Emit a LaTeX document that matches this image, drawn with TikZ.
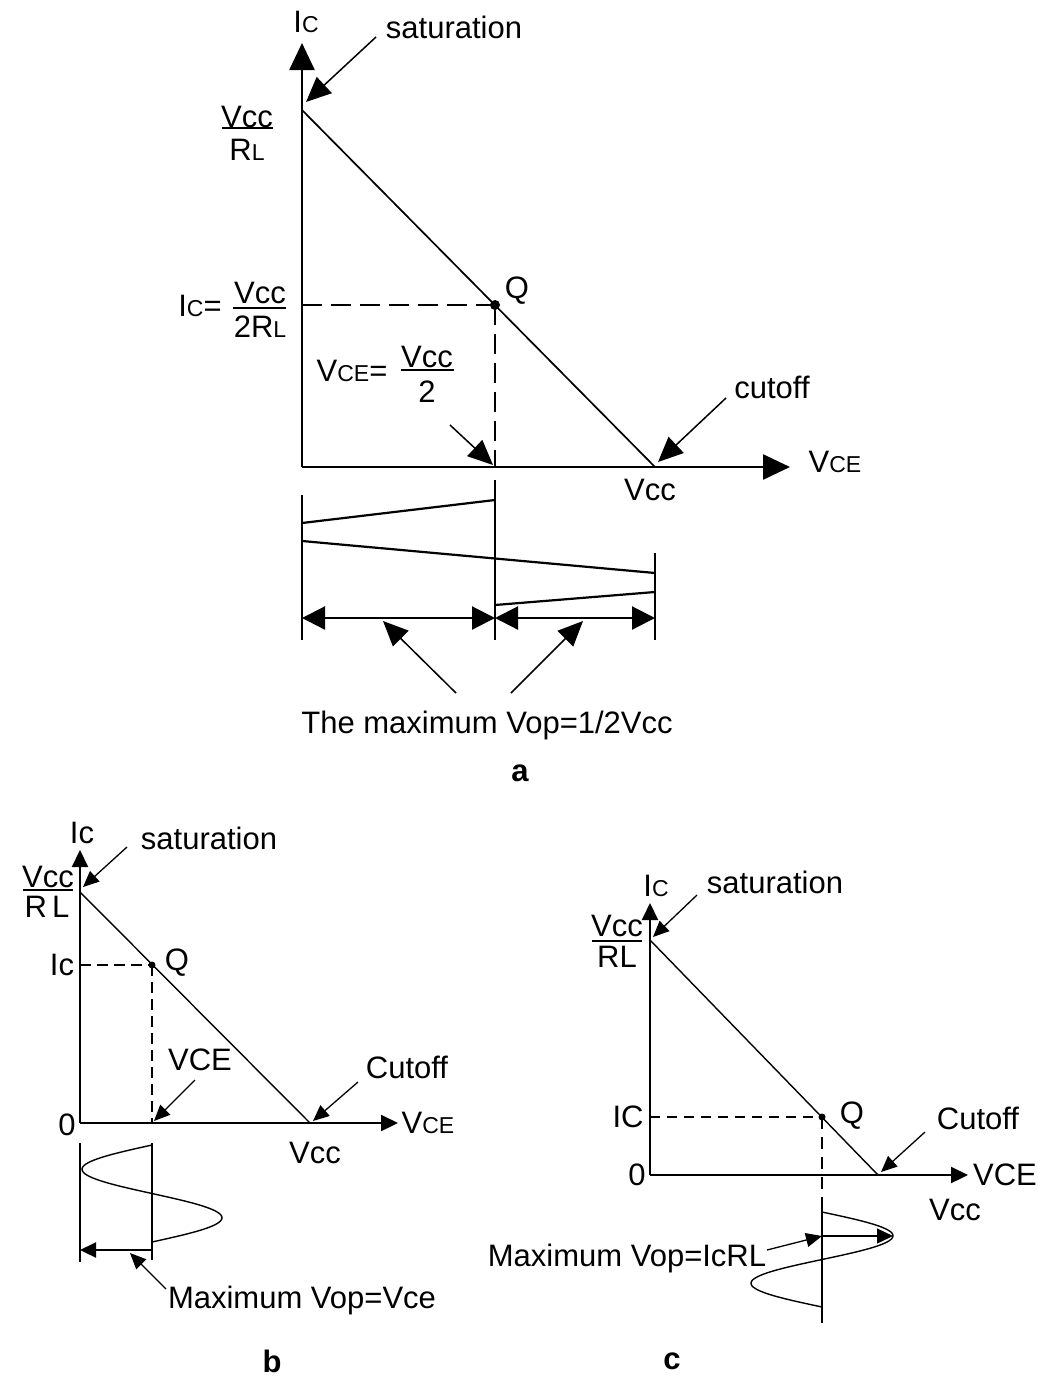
\documentclass[tikz,border=0pt]{standalone}
\usepackage{fontspec}
\setmainfont{Liberation Sans}
\usetikzlibrary{arrows.meta}
\newcommand\smc[1]{{\fontsize{23}{25}\selectfont #1}}
\begin{document}
\begin{tikzpicture}[x=1pt,y=-1pt,
  lbl/.style={font=\fontsize{31}{35}\selectfont, inner sep=0pt, text depth=0pt},
  ttl/.style={font=\fontsize{31}{35}\selectfont\bfseries, inner sep=0pt},
  axA/.style={line width=2.6pt, -{Triangle[length=27pt,width=25pt]}},
  lineA/.style={line width=1.7pt},
  barA/.style={line width=2.2pt},
  dashA/.style={line width=2.6pt, dash pattern=on 20pt off 9pt},
  ptrA/.style={line width=1.5pt, -{Triangle[length=25pt,width=22pt]}},
  dblA/.style={line width=2.2pt, {Triangle[length=23pt,width=23pt]}-{Triangle[length=23pt,width=23pt]}},
  axB/.style={line width=2.2pt, -{Triangle[length=17pt,width=16pt]}},
  lineB/.style={line width=1.4pt},
  dashB/.style={line width=2.2pt, dash pattern=on 11pt off 6pt},
  ptrB/.style={line width=1.3pt, -{Triangle[length=16pt,width=14pt]}},
]
\useasboundingbox[fill=white] (0,0) rectangle (1041,1376);

%% ================= diagram a =================
\coordinate (Oa) at (302,467);
\coordinate (aYtip) at (302,43);
\coordinate (aXtip) at (790,467);
\coordinate (aSat) at (302,110);
\coordinate (aCut) at (655,467);
\coordinate (aQ) at (495,305);
\coordinate (aQy) at (302,305);
\coordinate (aQx) at (495,467);

\draw[axA] (Oa) -- (aYtip);
\draw[axA] (Oa) -- (aXtip);
\draw[lineA] (aSat) -- (aCut);
\draw[dashA] (aQy) -- (aQ);
\draw[dashA] (aQ) -- (aQx);
\fill (aQ) circle (5pt);

\node[lbl] (aIc) at (306,22) {I\smc{C}};
\node[lbl] (aSatTxt) at (454,27) {saturation};
\coordinate (aSatS) at (376,37);
\coordinate (aSatE) at (306,102);
\draw[ptrA] (aSatS) -- (aSatE);

\node[lbl] (aN1) at (247,117) {Vcc};
\draw[barA] (222,128) coordinate (aB1l) -- (273,128) coordinate (aB1r);
\node[lbl] (aD1) at (247,150) {R\smc{L}};

\node[lbl] (aIcEq) at (200,306) {I\smc{C}=};
\node[lbl] (aN2) at (260,293) {Vcc};
\draw[barA] (233,308) coordinate (aB2l) -- (286,308) coordinate (aB2r);
\node[lbl] (aD2) at (260,327) {2R\smc{L}};

\node[lbl] (aQlbl) at (517,288) {Q};

\node[lbl] (aVceEq) at (352,371) {V\smc{CE}=};
\node[lbl] (aN3) at (427,357) {Vcc};
\draw[barA] (401,370) coordinate (aB3l) -- (454,370) coordinate (aB3r);
\node[lbl] (aD3) at (427,392) {2};

\coordinate (aVcS) at (450,425);
\coordinate (aVcE) at (493,465);
\draw[ptrA] (aVcS) -- (aVcE);

\node[lbl] (aCutTxt) at (772,387) {cutoff};
\coordinate (aCutS) at (726,398);
\coordinate (aCutE) at (658,462);
\draw[ptrA] (aCutS) -- (aCutE);

\node[lbl] (aVCE) at (835,462) {V\smc{CE}};
\node[lbl] (aVcc) at (650,490) {Vcc};

% lower part of a
\coordinate (aL1t) at (302,495); \coordinate (aL1b) at (302,640);
\coordinate (aL2t) at (495,480); \coordinate (aL2b) at (495,640);
\coordinate (aL3t) at (655,553); \coordinate (aL3b) at (655,640);
\draw[barA] (aL1t) -- (aL1b);
\draw[barA] (aL2t) -- (aL2b);
\draw[barA] (aL3t) -- (aL3b);
\draw[barA] (302,523) -- (495,500);
\draw[barA] (302,541) -- (655,573);
\draw[barA] (495,605) -- (655,592);
\coordinate (aA1) at (302,618); \coordinate (aA2) at (495,618); \coordinate (aA3) at (655,618);
\draw[dblA] (aA1) -- (aA2);
\draw[dblA] (aA2) -- (aA3);
\node[lbl] (aMax) at (487,722) {The maximum Vop=1/2Vcc};
\coordinate (aP1s) at (456,693); \coordinate (aP1e) at (383,621);
\coordinate (aP2s) at (511,693); \coordinate (aP2e) at (583,621);
\draw[ptrA] (aP1s) -- (aP1e);
\draw[ptrA] (aP2s) -- (aP2e);
\node[ttl] (aTitle) at (520,773) {a};

%% ================= diagram b =================
\coordinate (Ob) at (80,1123);
\coordinate (bYtip) at (80,850);
\coordinate (bXtip) at (398,1123);
\coordinate (bSat) at (80,892);
\coordinate (bCut) at (310,1123);
\coordinate (bQ) at (152,965);
\coordinate (bQy) at (80,965);
\coordinate (bQx) at (152,1123);

\draw[axB] (Ob) -- (bYtip);
\draw[axB] (Ob) -- (bXtip);
\draw[lineB] (bSat) -- (bCut);
\draw[dashB] (bQy) -- (bQ);
\draw[dashB] (bQ) -- (bQx);
\fill (bQ) circle (3.5pt);

\node[lbl] (bIc) at (82,833) {Ic};
\node[lbl] (bSatTxt) at (209,838) {saturation};
\coordinate (bSatS) at (127,847); \coordinate (bSatE) at (83,887);
\draw[ptrB] (bSatS) -- (bSatE);
\node[lbl] (bN) at (48,877) {Vcc};
\draw[barA] (23,890) -- (73,890);
\node[lbl] (bD) at (47,907) {R\,L};
\node[lbl] (bIcL) at (62,965) {Ic};
\node[lbl] (bQlbl) at (177,960) {Q};
\node[lbl] (bVCEtxt) at (200,1060) {VCE};
\coordinate (bVcS) at (195,1080); \coordinate (bVcE) at (154,1121);
\draw[ptrB] (bVcS) -- (bVcE);
\node[lbl] (b0) at (67,1125) {0};
\node[lbl] (bCutTxt) at (407,1067) {Cutoff};
\coordinate (bCutS) at (358,1082); \coordinate (bCutE) at (313,1121);
\draw[ptrB] (bCutS) -- (bCutE);
\node[lbl] (bVCE) at (428,1123) {V\smc{CE}};
\node[lbl] (bVcc) at (315,1153) {Vcc};

% lower part of b
\coordinate (bL1t) at (80,1143); \coordinate (bL1b) at (80,1262);
\coordinate (bL2t) at (152,1143); \coordinate (bL2b) at (152,1260);
\draw[barA] (bL1t) -- (bL1b);
\draw[barA] (bL2t) -- (bL2b);
\draw[lineB] plot[domain=0:360, samples=73, smooth, variable=\t] ({152-70*sin(\t)}, {1145+\t/360*97});
\coordinate (bArS) at (152,1250); \coordinate (bArE) at (80,1250);
\draw[barA, -{Triangle[length=16pt,width=15pt]}] (bArS) -- (bArE);
\node[lbl] (bMax) at (302,1297) {Maximum Vop=Vce};
\coordinate (bPs) at (166,1289); \coordinate (bPe) at (130,1253);
\draw[ptrB] (bPs) -- (bPe);
\node[ttl] (bTitle) at (272,1361) {b};

%% ================= diagram c =================
\coordinate (Oc) at (650,1175);
\coordinate (cYtip) at (650,903);
\coordinate (cXtip) at (968,1175);
\coordinate (cSat) at (650,940);
\coordinate (cCut) at (878,1175);
\coordinate (cQ) at (822,1117);
\coordinate (cQy) at (650,1117);
\coordinate (cQx) at (822,1198);
\coordinate (cSb) at (822,1323);

\draw[axB] (Oc) -- (cYtip);
\draw[axB] (Oc) -- (cXtip);
\draw[lineB] (cSat) -- (cCut);
\draw[dashB, line width=1.7pt, dash pattern=on 10pt off 7pt] (cQy) -- (cQ);
\draw[dashB, line width=1.7pt, dash pattern=on 12pt off 8pt] (cQ) -- (cQx);
\draw[lineB, line width=1.8pt] (cQx) -- (cSb);
\fill (cQ) circle (3.5pt);

\node[lbl] (cIc) at (656,886) {I\smc{C}};
\node[lbl] (cSatTxt) at (775,882) {saturation};
\coordinate (cSatS) at (697,895); \coordinate (cSatE) at (653,937);
\draw[ptrB] (cSatS) -- (cSatE);
\node[lbl] (cN) at (617,926) {Vcc};
\draw[barA] (592,941) -- (642,941);
\node[lbl] (cD) at (617,957) {RL};
\node[lbl] (cIC) at (628,1117) {IC};
\node[lbl] (cQlbl) at (852,1113) {Q};
\node[lbl] (c0) at (637,1175) {0};
\node[lbl] (cCutTxt) at (978,1118) {Cutoff};
\coordinate (cCutS) at (925,1132); \coordinate (cCutE) at (881,1172);
\draw[ptrB] (cCutS) -- (cCutE);
\node[lbl] (cVCE) at (1005,1175) {VCE};
\node[lbl] (cVcc) at (955,1210) {Vcc};

% lower part of c
\draw[lineB] plot[domain=0:360, samples=73, smooth, variable=\t] ({822+71*sin(\t)}, {1212+\t/360*95});
\coordinate (cArS) at (822,1236); \coordinate (cArE) at (893,1236);
\draw[lineB, -{Triangle[length=16pt,width=15pt]}] (cArS) -- (cArE);
\node[lbl] (cMax) at (627,1255) {Maximum Vop=IcRL};
\coordinate (cPs) at (767,1250); \coordinate (cPe) at (822,1236);
\draw[ptrB] (cPs) -- (cPe);
\node[ttl] (cTitle) at (672,1361) {c};
\end{tikzpicture}
\end{document}
